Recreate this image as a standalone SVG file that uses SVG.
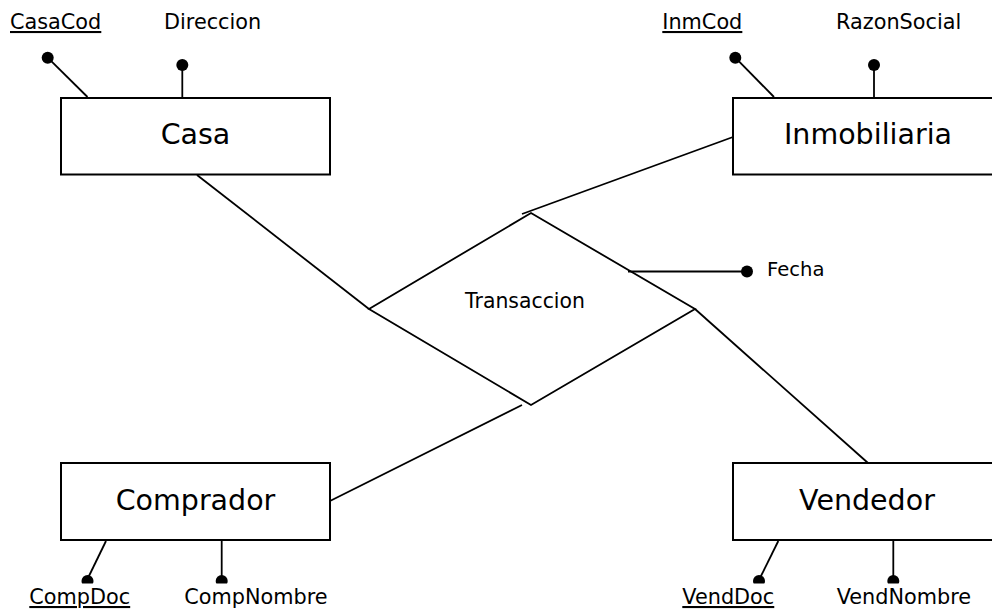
<svg xmlns="http://www.w3.org/2000/svg" width="992" height="609" viewBox="0 0 992 609">
  <style>
    .box { fill: #fff; stroke: #000; stroke-width: 2; }
    .rel { fill: #fff; stroke: #000; stroke-width: 1.8; }
    .ln { fill: none; stroke: #000; stroke-width: 1.8; }
    .dot { fill: #000; }
    .ent { font-family: "DejaVu Sans", Verdana, sans-serif; font-size: 28.5px; fill: #000; text-anchor: middle; }
    .att { font-family: "DejaVu Sans", Verdana, sans-serif; font-size: 20.8px; fill: #000; }
    .key { text-decoration: underline; }
  </style>
  <defs>
    <clipPath id="cutLow">
      <rect x="0" y="0" width="992" height="583.5"/>
    </clipPath>
  </defs>
  <rect width="992" height="609" fill="#fff"/>

  <!-- relationship links -->
  <g id="connectors">
    <line class="ln" x1="197" y1="175" x2="369" y2="309"/>
    <line class="ln" x1="733" y1="137" x2="522" y2="214"/>
    <line class="ln" x1="695" y1="309" x2="868" y2="463"/>
    <line class="ln" x1="330" y1="501" x2="522" y2="405"/>
  </g>

  <g id="transaccion">
    <polygon class="rel" points="531,213 695,309 531,405 369,309"/>
    <text class="att" x="525" y="308" text-anchor="middle" style="font-size:20.4px">Transaccion</text>
    <line class="ln" x1="628" y1="271.5" x2="747" y2="271.5"/>
    <circle class="dot" cx="747" cy="271.5" r="6"/>
    <text class="att" x="767" y="276" style="font-size:19.6px">Fecha</text>
  </g>

  <g id="casa">
    <line class="ln" x1="47.7" y1="57.7" x2="87.5" y2="97"/>
    <circle class="dot" cx="47.7" cy="57.7" r="6"/>
    <line class="ln" x1="182.3" y1="65" x2="182.3" y2="97"/>
    <circle class="dot" cx="182.3" cy="65" r="6"/>
    <rect class="box" x="61" y="98" width="269" height="76.5"/>
    <text class="ent" x="195.5" y="144">Casa</text>
    <text class="att key" x="10" y="29">CasaCod</text>
    <text class="att" x="164" y="29">Direccion</text>
  </g>

  <g id="inmobiliaria">
    <line class="ln" x1="735.3" y1="57.7" x2="774" y2="97"/>
    <circle class="dot" cx="735.3" cy="57.7" r="6"/>
    <line class="ln" x1="874" y1="65" x2="874" y2="97"/>
    <circle class="dot" cx="874" cy="65" r="6"/>
    <rect class="box" x="733" y="98" width="269" height="76.5"/>
    <text class="ent" x="868" y="144">Inmobiliaria</text>
    <text class="att key" x="662.3" y="29">InmCod</text>
    <text class="att" x="836" y="29">RazonSocial</text>
  </g>

  <g id="comprador">
    <rect class="box" x="61" y="463" width="269" height="77"/>
    <text class="ent" x="195.5" y="509.5">Comprador</text>
    <line class="ln" x1="106" y1="541" x2="88" y2="578"/>
    <circle class="dot" cx="87.5" cy="581" r="6" clip-path="url(#cutLow)"/>
    <line class="ln" x1="221.7" y1="541" x2="221.7" y2="578"/>
    <circle class="dot" cx="221.7" cy="581" r="6" clip-path="url(#cutLow)"/>
    <text class="att key" x="29.3" y="604">CompDoc</text>
    <text class="att" x="184.3" y="604">CompNombre</text>
  </g>

  <g id="vendedor">
    <rect class="box" x="733" y="463" width="269" height="77"/>
    <text class="ent" x="867" y="509.5">Vendedor</text>
    <line class="ln" x1="778.3" y1="541" x2="760" y2="578"/>
    <circle class="dot" cx="759" cy="581" r="6" clip-path="url(#cutLow)"/>
    <line class="ln" x1="893.3" y1="541" x2="893.3" y2="578"/>
    <circle class="dot" cx="893.3" cy="581" r="6" clip-path="url(#cutLow)"/>
    <text class="att key" x="682.3" y="604">VendDoc</text>
    <text class="att" x="836.7" y="604">VendNombre</text>
  </g>
</svg>
